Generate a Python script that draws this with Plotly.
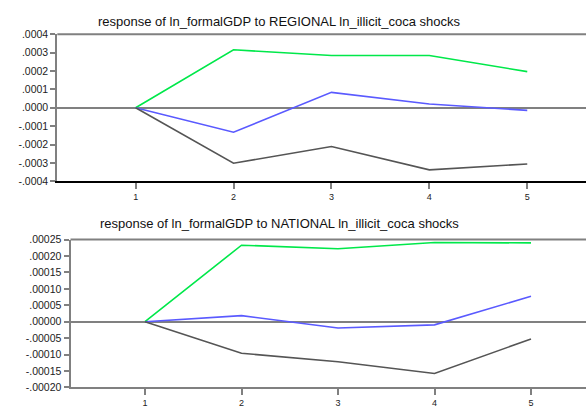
import plotly.graph_objects as go

# Forecast horizon (periods)
periods = [1, 2, 3, 4, 5]

# Responses of ln_formalGDP to REGIONAL ln_illicit_coca shocks
regional_upper = [0.0, 0.000316, 0.000285, 0.000285, 0.000197]
regional_resp = [0.0, -0.000133, 0.000084, 0.000021, -0.000014]
regional_lower = [0.0, -0.000302, -0.000211, -0.000338, -0.000306]

# Responses of ln_formalGDP to NATIONAL ln_illicit_coca shocks
national_upper = [0.0, 0.000233, 0.000222, 0.000241, 0.000240]
national_resp = [0.0, 0.0000185, -0.000019, -0.0000095, 0.0000775]
national_lower = [0.0, -0.000096, -0.000122, -0.0001575, -0.0000525]

# Axis ticks
regional_ticks = [0.0004, 0.0003, 0.0002, 0.0001, 0.0, -0.0001, -0.0002, -0.0003, -0.0004]
regional_ticktext = [".0004", ".0003", ".0002", ".0001", ".0000",
                     "-.0001", "-.0002", "-.0003", "-.0004"]
national_ticks = [0.00025, 0.0002, 0.00015, 0.0001, 0.00005, 0.0, -0.00005, -0.0001, -0.00015, -0.0002]
national_ticktext = [".00025", ".00020", ".00015", ".00010", ".00005", ".00000",
                     "-.00005", "-.00010", "-.00015", "-.00020"]

titles = ["response of ln_formalGDP to REGIONAL ln_illicit_coca shocks",
          "response of ln_formalGDP to NATIONAL ln_illicit_coca shocks"]

W, H = 586, 408
GREEN, BLUE, DARK, AXIS = "#00e84a", "#5a5aff", "#555555", "#808080"
FONT = "Liberation Sans, Arial, sans-serif"

fig = go.Figure()

def add_panel(xa, ya, upper, resp, lower):
    for vals, col in ((upper, GREEN), (resp, BLUE), (lower, DARK)):
        fig.add_trace(go.Scatter(x=periods, y=vals, mode="lines", xaxis=xa, yaxis=ya,
                                 line=dict(color=col, width=1.6), showlegend=False,
                                 hoverinfo="skip"))

add_panel("x", "y", regional_upper, regional_resp, regional_lower)
add_panel("x2", "y2", national_upper, national_resp, national_lower)

def px_y(p):
    return 1 - p / H

def px_x(p):
    return p / W

top1, bot1 = 29.3, 181.0
top2, bot2 = 241.3, 394.0
left1, left2 = 57.3, 70.5

xcommon = dict(tickvals=periods, ticktext=[str(p) for p in periods], ticks="outside",
               ticklen=6, tickwidth=1.5, tickcolor=AXIS, showgrid=False, zeroline=False,
               showline=True, linewidth=2, tickfont=dict(family=FONT, size=9, color="#222"))
ycommon = dict(ticks="outside", ticklen=5, tickwidth=1.5, tickcolor=AXIS, showgrid=False,
               zeroline=True, zerolinecolor=AXIS, zerolinewidth=2, showline=True,
               linecolor=AXIS, linewidth=2, tickfont=dict(family=FONT, size=10.5, color="#222"))

fig.update_layout(
    width=W, height=H, margin=dict(l=0, r=0, t=0, b=0),
    paper_bgcolor="white", plot_bgcolor="white",
    xaxis=dict(domain=[px_x(left1), 1], range=[0.2, 5.6], anchor="y",
               linecolor="#000000", **xcommon),
    yaxis=dict(domain=[px_y(bot1), px_y(top1)], range=[-0.0004, 0.0004], anchor="x",
               tickvals=regional_ticks, ticktext=regional_ticktext, **ycommon),
    xaxis2=dict(domain=[px_x(left2), 1], range=[0.228, 5.57], anchor="y2",
                linecolor=AXIS, **xcommon),
    yaxis2=dict(domain=[px_y(bot2), px_y(top2)], range=[-0.0002, 0.00025], anchor="x2",
                tickvals=national_ticks, ticktext=national_ticktext, **ycommon),
)

# Top frame lines of each panel
for left, top in ((left1, top1), (left2, top2)):
    fig.add_shape(type="line", xref="paper", yref="paper", x0=px_x(left), x1=1,
                  y0=px_y(top), y1=px_y(top), line=dict(color=AXIS, width=2))

# Panel titles
for title, ypx in zip(titles, (16, 225)):
    fig.add_annotation(text=title, xref="paper", yref="paper", x=px_x(279), y=px_y(ypx),
                       xanchor="center", yanchor="middle", showarrow=False,
                       font=dict(family=FONT, size=13, color="#111"))

fig.write_html("out.html")
